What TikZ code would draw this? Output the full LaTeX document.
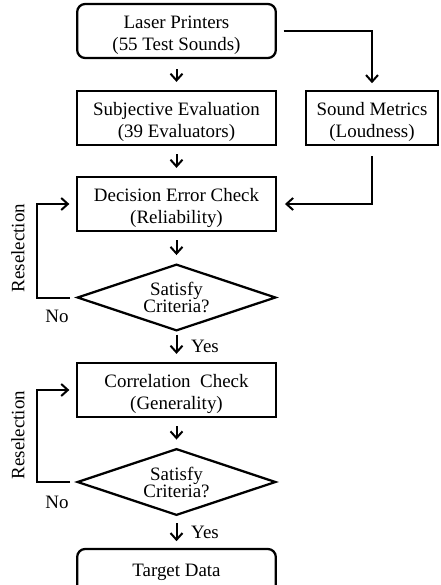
\documentclass[tikz,border=0pt]{standalone}
\usepackage{fontspec}
\setmainfont{Liberation Serif}
\usetikzlibrary{arrows.meta,shapes.geometric}

\newcommand{\boxstrut}{\rule{0pt}{16pt}}
\tikzset{every picture/.style={line width=1.5pt}}
\tikzset{
	txt/.style={font=\fontsize{14.2}{16.5}\selectfont, align=center},
	procbox/.style={txt, draw, line width=1.7pt, minimum width=149pt, minimum height=40.5pt, inner sep=2pt},
	termbox/.style={procbox, rounded corners=6pt},
	decbox/.style={txt, font=\fontsize{14.2}{12.8}\selectfont, draw, line width=1.7pt, shape=diamond, aspect=3, minimum width=149pt, minimum height=50pt, inner sep=0pt},
	arr/.style={-{Straight Barb[length=5pt,width=9pt,line width=1.5pt]}}}

\begin{document}
\begin{tikzpicture}[x=0.75pt,y=0.75pt,yscale=-1,xscale=1]
	\useasboundingbox (0,0) rectangle (441,585);

	%Shape: Rounded Rect [id:laser]
	\node (laser) at (176.5,31) [termbox] {\boxstrut Laser Printers\\(55 Test Sounds)};
	%Shape: Rectangle [id:subjective]
	\node (subjective) at (176.5,118) [procbox] {\boxstrut Subjective Evaluation\\(39 Evaluators)};
	%Shape: Rectangle [id:metrics]
	\node (metrics) at (372,118) [procbox, minimum width=99pt] {\boxstrut Sound Metrics\\(Loudness)};
	%Shape: Rectangle [id:decision]
	\node (decision) at (176.5,204) [procbox] {\boxstrut Decision Error Check\\(Reliability)};
	%Shape: Diamond [id:satisfyA]
	\node (satisfyA) at (176.5,297.5) [decbox] {Satisfy\\Criteria?};
	%Shape: Rectangle [id:correlation]
	\node (correlation) at (176.5,390) [procbox] {\boxstrut Correlation\ \ Check\\(Generality)};
	%Shape: Diamond [id:satisfyB]
	\node (satisfyB) at (176.5,482) [decbox] {Satisfy\\Criteria?};
	%Shape: Rounded Rect [id:target]
	\node (target) at (176.5,572) [termbox, minimum height=34.5pt] {Target Data};

	%Straight Lines [id:main flow]
	\draw [arr, shorten <=7.5pt, shorten >=6pt] (laser) -- (subjective);
	\draw [arr, shorten <=6pt, shorten >=6pt] (subjective) -- (decision);
	\draw [arr, shorten <=6pt, shorten >=6pt] (decision) -- (satisfyA);
	\draw [arr, shorten <=2pt, shorten >=6pt] (satisfyA) -- (correlation);
	\draw [arr, shorten <=6pt, shorten >=6pt] (correlation) -- (satisfyB);
	\draw [arr, shorten <=5pt, shorten >=5pt] (satisfyB) -- (target);
	%Straight Lines [id:metrics branch]
	\draw [arr, shorten <=5pt, shorten >=5pt] (laser.east) -| (metrics.north);
	\draw [arr, shorten <=7.5pt, shorten >=6pt] (metrics.south) |- (decision.east);
	%Straight Lines [id:reselection loops]
	\draw [arr, shorten <=4.5pt, shorten >=5pt] (satisfyA.west) -- ++(-39,0) |- (decision.west);
	\draw [arr, shorten <=4.5pt, shorten >=5pt] (satisfyB.west) -- ++(-39,0) |- (correlation.west);

	% Text Node
	\node (resA) at (18,248) [txt, rotate=90] {Reselection};
	% Text Node
	\node (resB) at (18,435) [txt, rotate=90] {Reselection};
	% Text Node
	\node (noA) at (57,316) [txt] {No};
	% Text Node
	\node (noB) at (57,502) [txt] {No};
	% Text Node
	\node (yesA) at (205,346) [txt] {Yes};
	% Text Node
	\node (yesB) at (205,532) [txt] {Yes};

\end{tikzpicture}
\end{document}
